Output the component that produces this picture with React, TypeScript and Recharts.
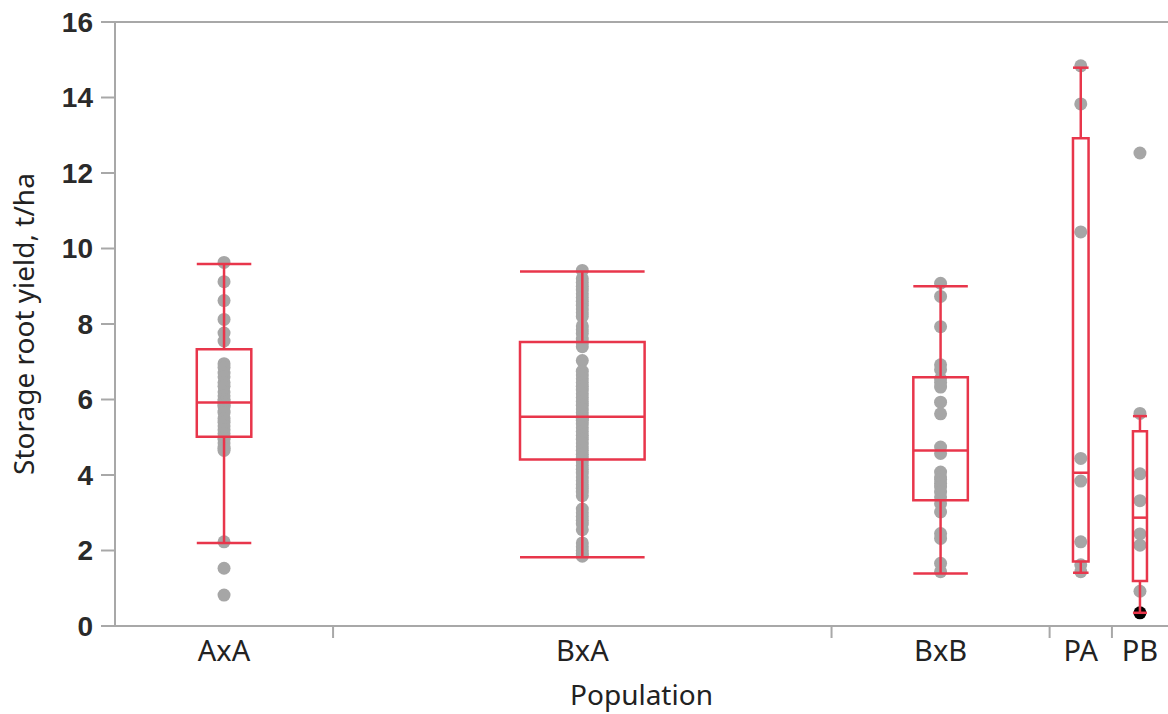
import {
  ComposedChart,
  Scatter,
  XAxis,
  YAxis,
  ReferenceArea,
  ReferenceLine,
  Label,
} from "recharts"

const groups = ["AxA", "BxA", "BxB", "PA", "PB"]

// JMP draws each group as wide as its count, so these are the relative widths
const groupWeight = [35, 80, 35, 10, 9]

const axaYield = [
  9.63, 9.12, 8.62, 8.12, 7.76, 7.55, 6.95, 6.85, 6.7, 6.6, 6.45, 6.35, 6.2,
  6.1, 6.0, 5.95, 5.9, 5.85, 5.8, 5.7, 5.65, 5.5, 5.4, 5.3, 5.2, 5.1, 5.0,
  4.95, 4.85, 4.75, 4.7, 4.65, 2.23, 1.53, 0.82,
]

const bxaYield = [
  9.42, 9.2, 9.1, 9.0, 8.9, 8.8, 8.7, 8.6, 8.5, 8.4, 8.3, 8.2, 7.95, 7.85,
  7.75, 7.6, 7.5, 7.4, 7.03, 6.75, 6.65, 6.55, 6.45, 6.35, 6.25, 6.15, 6.05,
  5.95, 5.85, 5.75, 5.65, 5.55, 5.5, 5.45, 5.35, 5.25, 5.15, 5.05, 4.95, 4.85,
  4.75, 4.65, 4.55, 4.45, 4.35, 4.25, 4.15, 4.05, 3.95, 3.85, 3.75, 3.65, 3.55,
  3.45, 3.1, 3.0, 2.9, 2.8, 2.7, 2.55, 2.2, 2.1, 2.0, 1.92, 1.85,
]

const bxbYield = [
  9.08, 8.73, 7.93, 6.92, 6.79, 6.55, 6.45, 6.33, 5.93, 5.62, 4.74, 4.57,
  4.08, 3.95, 3.88, 3.78, 3.68, 3.55, 3.42, 3.24, 3.02, 2.45, 2.32, 1.66, 1.44,
]

const paYield = [14.84, 13.83, 10.44, 4.44, 3.84, 2.23, 1.62, 1.44]

const pbYield = [12.53, 5.63, 4.03, 3.32, 2.44, 2.14, 0.92]

// the one point JMP shows in black (PB minimum)
const pbMarked = [0.35]

const lowWhisker = [2.2, 1.82, 1.39, 1.41, 0.35]
const quartile1 = [5.01, 4.41, 3.33, 1.71, 1.19]
const median = [5.92, 5.54, 4.65, 4.06, 2.87]
const quartile3 = [7.33, 7.52, 6.59, 12.92, 5.16]
const highWhisker = [9.59, 9.39, 9.0, 14.79, 5.56]

const yTicks = [0, 2, 4, 6, 8, 10, 12, 14, 16]

const axisGray = "#a8a8a8"
const boxRed = "#e8364b"
const dotGray = "#a6a6a6"
const textFont = "'Noto Sans', sans-serif"
const redWidth = 2.5

// x positions built from the group widths
const total = groupWeight.reduce((a, b) => a + b, 0)
const starts = groupWeight.map((_, i) =>
  groupWeight.slice(0, i).reduce((a, b) => a + b, 0)
)
const centers = starts.map((s, i) => s + groupWeight[i] / 2)
const halfBox = groupWeight.map((w) => w / 8)
const boundaries = starts.slice(1)

const allYields = [axaYield, bxaYield, bxbYield, paYield, pbYield]

const points = allYields.flatMap((values, i) =>
  values.map((v) => ({ x: centers[i], y: v }))
)

const markedPoints = pbMarked.map((v) => ({ x: centers[4], y: v }))

const xTicks = [...boundaries, ...centers].sort((a, b) => a - b)

function XTick(props: any) {
  const { x, y, payload } = props
  const idx = centers.indexOf(payload.value)

  if (idx >= 0) {
    return (
      <text
        x={x}
        y={y + 35}
        textAnchor="middle"
        fontSize={29}
        fontFamily={textFont}
        fill="#222"
      >
        {groups[idx]}
      </text>
    )
  }

  return (
    <line
      x1={x}
      x2={x}
      y1={y}
      y2={y + 12}
      stroke={axisGray}
      strokeWidth={2}
    />
  )
}

function Dot(props: any) {
  return <circle cx={props.cx} cy={props.cy} r={6.5} fill={dotGray} />
}

function MarkedDot(props: any) {
  return <circle cx={props.cx} cy={props.cy} r={6.5} fill="#000" />
}

export default function App() {
  return (
    <div style={{ position: "absolute", left: 0, top: 0, background: "#fff" }}>
      <ComposedChart
        width={1168}
        height={714}
        margin={{ top: 22, right: 0, left: 0, bottom: 0 }}
      >
        <XAxis
          type="number"
          dataKey="x"
          domain={[0, total]}
          ticks={xTicks}
          interval={0}
          tickSize={0}
          tickMargin={0}
          tickLine={false}
          tick={<XTick />}
          height={88}
          axisLine={{ stroke: axisGray, strokeWidth: 2 }}
        >
          <Label
            value="Population"
            position="insideBottom"
            offset={9}
            fontSize={28}
            fontFamily={textFont}
            fill="#222"
          />
        </XAxis>

        <YAxis
          type="number"
          dataKey="y"
          domain={[0, 16]}
          ticks={yTicks}
          interval={0}
          width={115}
          tickSize={14}
          tickMargin={8}
          axisLine={{ stroke: axisGray, strokeWidth: 2 }}
          tickLine={{ stroke: axisGray, strokeWidth: 2 }}
          tick={{
            fill: "#2a2a2a",
            fontSize: 28,
            fontWeight: 700,
            fontFamily: "'Liberation Sans', sans-serif",
          }}
        >
          <Label
            value="Storage root yield, t/ha"
            angle={-90}
            position="insideLeft"
            offset={24}
            fontSize={28}
            fontFamily={textFont}
            fill="#222"
            style={{ textAnchor: "middle" }}
          />
        </YAxis>

        {/* top frame line */}
        <ReferenceLine y={16} stroke={axisGray} strokeWidth={2} />

        <Scatter
          data={points}
          shape={<Dot />}
          isAnimationActive={false}
        />
        <Scatter
          data={markedPoints}
          shape={<MarkedDot />}
          isAnimationActive={false}
        />

        {groups.map((g, i) => (
          <ReferenceArea
            key={`box-${g}`}
            x1={centers[i] - halfBox[i]}
            x2={centers[i] + halfBox[i]}
            y1={quartile1[i]}
            y2={quartile3[i]}
            stroke={boxRed}
            strokeWidth={redWidth}
            fill="none"
            fillOpacity={0}
            zIndex={700}
          />
        ))}

        {groups.map((g, i) => (
          <ReferenceLine
            key={`med-${g}`}
            segment={[
              { x: centers[i] - halfBox[i], y: median[i] },
              { x: centers[i] + halfBox[i], y: median[i] },
            ]}
            stroke={boxRed}
            strokeWidth={redWidth}
            zIndex={700}
          />
        ))}

        {groups.map((g, i) => (
          <ReferenceLine
            key={`wh-hi-${g}`}
            segment={[
              { x: centers[i], y: quartile3[i] },
              { x: centers[i], y: highWhisker[i] },
            ]}
            stroke={boxRed}
            strokeWidth={redWidth}
            zIndex={700}
          />
        ))}

        {groups.map((g, i) => (
          <ReferenceLine
            key={`wh-lo-${g}`}
            segment={[
              { x: centers[i], y: quartile1[i] },
              { x: centers[i], y: lowWhisker[i] },
            ]}
            stroke={boxRed}
            strokeWidth={redWidth}
            zIndex={700}
          />
        ))}

        {groups.map((g, i) => (
          <ReferenceLine
            key={`cap-hi-${g}`}
            segment={[
              { x: centers[i] - halfBox[i], y: highWhisker[i] },
              { x: centers[i] + halfBox[i], y: highWhisker[i] },
            ]}
            stroke={boxRed}
            strokeWidth={redWidth}
            zIndex={700}
          />
        ))}

        {groups.map((g, i) => (
          <ReferenceLine
            key={`cap-lo-${g}`}
            segment={[
              { x: centers[i] - halfBox[i], y: lowWhisker[i] },
              { x: centers[i] + halfBox[i], y: lowWhisker[i] },
            ]}
            stroke={boxRed}
            strokeWidth={redWidth}
            zIndex={700}
          />
        ))}
      </ComposedChart>
    </div>
  )
}
